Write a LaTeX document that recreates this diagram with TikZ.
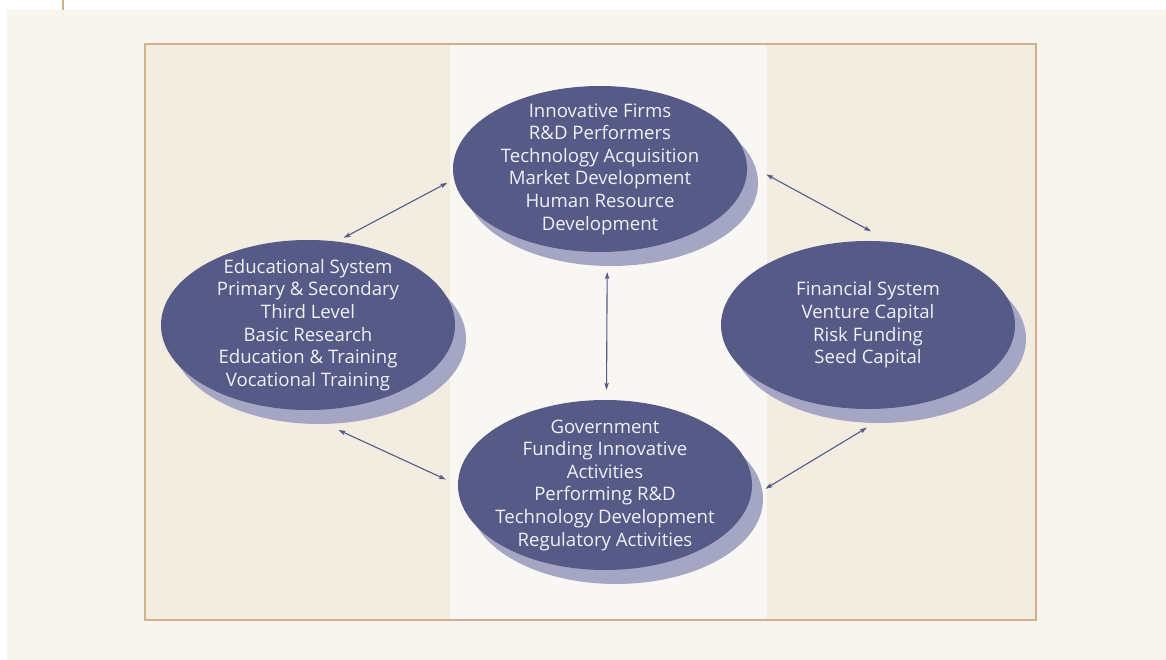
\documentclass[tikz,border=0pt]{standalone}
\usepackage{fontspec}
\newfontfamily\ovalfont{Open Sans}
\usepackage{xcolor}
\usepackage{tikz}
\usetikzlibrary{arrows.meta,shapes.geometric,shadows}

\definecolor{pagebg}{HTML}{F8F4EE}
\definecolor{panelbg}{HTML}{F2ECE1}
\definecolor{centerbg}{HTML}{F9F7F3}
\definecolor{framecol}{HTML}{D0B18C}
\definecolor{ovalcol}{HTML}{555A87}
\definecolor{shadowcol}{HTML}{A5A6C3}
\definecolor{ovaltext}{HTML}{F0F0F5}

\begin{document}
\begin{tikzpicture}[x=1pt, y=-1pt,
    oval/.style={ellipse, fill=ovalcol, inner sep=-45pt, text=ovaltext,
      minimum width=294pt, align=center,
      font=\ovalfont\fontsize{18.6}{22.6}\selectfont,
      drop shadow={shadow xshift=11pt, shadow yshift=-14pt,
        fill=shadowcol, opacity=1}},
    link/.style={draw=ovalcol, line width=1.1pt,
      {Stealth[length=7pt,width=4.5pt,inset=1.5pt]}-{Stealth[length=7pt,width=4.5pt,inset=1.5pt]}}]
  \useasboundingbox (0,0) rectangle (1166,660);
  % ---- page and panels
  \fill[white] (0,0) rectangle (1166,660);
  \fill[pagebg] (7,10) rectangle (1166,660);
  \draw[framecol, line width=1.5pt] (63,0) -- (63,10);
  \fill[panelbg] (145,44) rectangle (450,620);
  \fill[centerbg] (450,44) rectangle (767,620);
  \fill[panelbg] (767,44) rectangle (1036,620);
  \draw[framecol, line width=2.5pt] (145,44) rectangle (1036,620);
  % ---- the four systems
  \node[oval, minimum height=166pt] (firms) at (600,169)
    {Innovative Firms\\R\&D Performers\\Technology Acquisition\\Market Development\\Human Resource\\Development};
  \node[oval, minimum height=170pt] (edu) at (308,325)
    {Educational System\\Primary \& Secondary\\Third Level\\Basic Research\\Education \& Training\\Vocational Training};
  \node[oval, minimum height=168pt] (fin) at (868,325)
    {Financial System\\Venture Capital\\Risk Funding\\Seed Capital};
  \node[oval, minimum height=170pt] (gov) at (605,485)
    {Government\\Funding Innovative\\Activities\\Performing R\&D\\Technology Development\\Regulatory Activities};
  % ---- links (gaps leave room for the shadows)
  \draw[link, shorten <=7.6pt, shorten >=7.8pt] (firms.184.9) -- (edu.71.4);
  \draw[link, shorten <=22.1pt, shorten >=22pt] (firms.2.2) -- (fin.75.9);
  \draw[link, shorten <=20pt, shorten >=10pt] (firms.-85.9) -- (gov.89.3);
  \draw[link, shorten <=48.4pt, shorten >=13.2pt] (edu.-99.3) -- (gov.180.2);
  \draw[link, shorten <=17.4pt, shorten >=40pt] (gov.-5.2) -- (fin.-68.2);
\end{tikzpicture}
\end{document}
